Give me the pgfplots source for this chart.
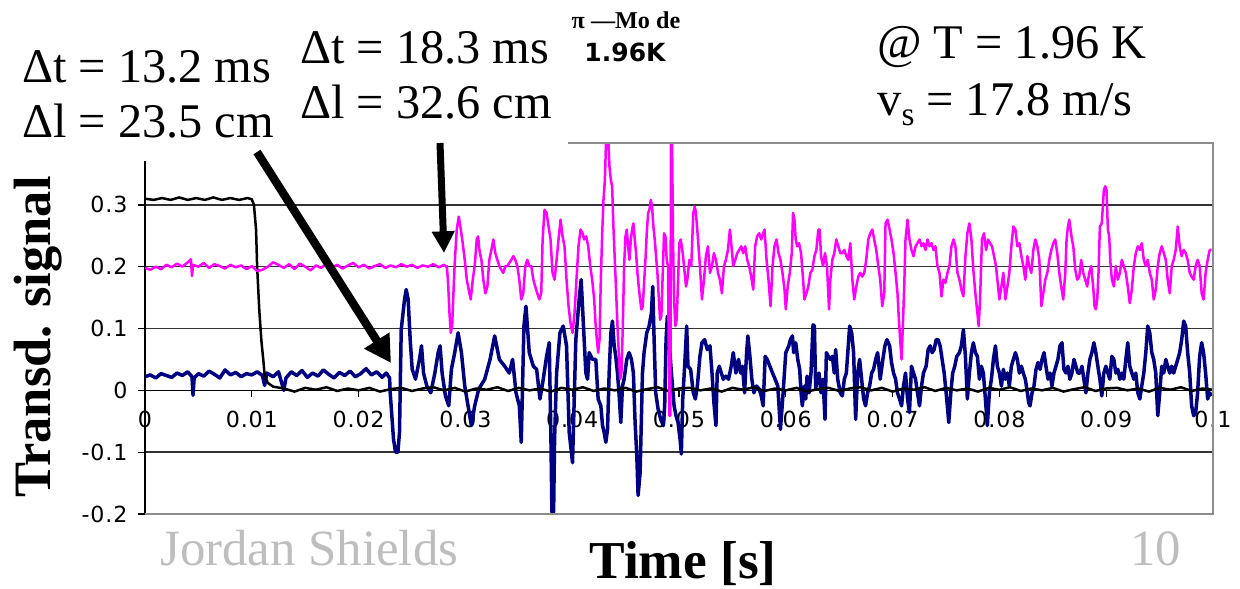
\documentclass[border=0pt]{standalone}
\usepackage{fontspec}
\setmainfont{Liberation Serif}
\newfontfamily\tickfont[LetterSpace=4]{DejaVu Sans}
\newfontfamily\labsans{DejaVu Sans}
\usepackage{pgfplots}
\pgfplotsset{compat=1.18}
\usetikzlibrary{arrows.meta}
\definecolor{sigmag}{RGB}{255,0,255}
\definecolor{signavy}{RGB}{0,0,128}
\definecolor{slidegray}{RGB}{190,190,190}
\definecolor{framegray}{RGB}{140,140,140}
\newcommand{\tickfs}{\tickfont\fontsize{13.3}{15}\selectfont}

\begin{document}
\begin{tikzpicture}[x=0.6pt,y=-0.6pt]
\path[use as bounding box] (0,0) rectangle (1240,588);
\begin{axis}[
 at={(87pt,-308.4pt)},anchor=south west,
 scale only axis,width=640.8pt,height=222.6pt,
 xmin=0,xmax=0.1,ymin=-0.2,ymax=0.4,
 axis x line=middle,axis y line=left,
 axis line style={-,black,line width=1pt},
 hide obscured x ticks=false,hide obscured y ticks=false,
 xtick={0,0.01,0.02,0.03,0.04,0.05,0.06,0.07,0.08,0.09,0.1},
 xticklabels={0,0.01,0.02,0.03,0.04,0.05,0.06,0.07,0.08,0.09,0.1},
 ytick={-0.2,-0.1,0,0.1,0.2,0.3},
 yticklabels={-0.2,-0.1,0,0.1,0.2,0.3},
 ymajorgrids,grid style={black!80,line width=0.9pt},
 tick align=outside,tick style={black,line width=0.8pt},major tick length=4pt,
 x tick label style={font=\tickfs,anchor=north,yshift=-5pt},
 y tick label style={font=\tickfs,anchor=east,xshift=-3pt},
 clip=true,
]
% navy transducer
\addplot[signavy,line width=2.1pt,line join=round] coordinates {
(0,0.022) (0.0005,0.025) (0.0010,0.020) (0.0015,0.027) (0.0020,0.024) (0.0025,0.021) (0.0030,0.028) (0.0035,0.024) (0.0040,0.030) (0.0044,0.022) (0.0045,-0.008) (0.0046,0.020) (0.0050,0.027) (0.0055,0.023) (0.0060,0.031) (0.0065,0.026) (0.0070,0.020) (0.0075,0.033) (0.0080,0.025) (0.0085,0.029) (0.0090,0.022) (0.0095,0.027) (0.0100,0.025) (0.0105,0.030) (0.0110,0.024) (0.0112,0.008) (0.0114,0.028) (0.0120,0.022) (0.0125,0.030) (0.0128,0.012) (0.0130,0.000) (0.0132,0.020) (0.0137,0.030) (0.0142,0.024) (0.0147,0.032) (0.0152,0.021) (0.0157,0.028) (0.0162,0.023) (0.0167,0.033) (0.0172,0.026) (0.0177,0.020) (0.0182,0.029) (0.0187,0.024) (0.0192,0.031) (0.0197,0.022) (0.0202,0.027) (0.0207,0.035) (0.0212,0.025) (0.0217,0.030) (0.0222,0.021) (0.0226,0.028) (0.0229,0.020)
(0.02296,-0.004) (0.02327,-0.079) (0.02346,-0.100) (0.02368,-0.100) (0.02383,-0.068) (0.02399,0.098) (0.02430,0.147) (0.02446,0.163) (0.02464,0.147) (0.02483,0.082) (0.02502,0.034) (0.02533,0.018) (0.02570,0.050) (0.02589,0.072) (0.02608,0.028) (0.02639,0.007) (0.02676,-0.004) (0.02714,0.028) (0.02745,0.061) (0.02763,0.072) (0.02782,0.028) (0.02813,-0.009) (0.02844,-0.025) (0.02869,0.034) (0.02900,0.061) (0.02932,0.093) (0.02963,0.061) (0.02994,0.007) (0.03025,-0.025) (0.03056,-0.057) (0.03087,-0.025) (0.03125,0.002) (0.03181,0.018) (0.03231,0.050) (0.03274,0.088) (0.03318,0.050) (0.03368,0.039) (0.03411,0.028) (0.03442,0.050) (0.03474,-0.004) (0.03505,-0.025) (0.03523,-0.084) (0.03548,0.104) (0.03567,0.136) (0.03598,0.061) (0.03636,0.039) (0.03667,0.034) (0.03698,-0.014) (0.03729,0.018) (0.03760,0.055) (0.03785,0.077) (0.03801,-0.079) (0.03810,-0.197) (0.03826,-0.197) (0.03835,-0.079) (0.03854,0.028) (0.03885,0.093) (0.03916,0.104) (0.03947,0.072) (0.03972,-0.068) (0.04003,-0.117) (0.04034,0.082) (0.04065,0.147) (0.04084,0.179)
(0.04112,0.082) (0.04128,0.028) (0.04144,0.018) (0.04159,0.061) (0.04190,0.050) (0.04221,0.050) (0.04243,-0.014) (0.04268,-0.025) (0.04284,-0.057) (0.04299,-0.068) (0.04315,-0.084) (0.04331,-0.063) (0.04346,0.028) (0.04362,0.093) (0.04377,0.112) (0.04393,0.072) (0.04408,0.055) (0.04424,0.028) (0.04440,-0.009) (0.04455,-0.052) (0.04471,0.007) (0.04486,0.018) (0.04511,0.050) (0.04533,0.061) (0.04555,0.050) (0.04573,0.028) (0.04589,-0.052) (0.04605,-0.106) (0.04617,-0.170) (0.04636,-0.133) (0.04658,0.028) (0.04673,0.061) (0.04698,0.093) (0.04720,0.104) (0.04742,0.125) (0.04754,0.168) (0.04767,0.082) (0.04782,-0.004) (0.04804,-0.030) (0.04829,-0.047) (0.04854,-0.057) (0.04866,-0.025) (0.04879,0.082) (0.04891,0.120) (0.04907,0.082) (0.04929,0.028) (0.04954,-0.025) (0.04972,-0.041) (0.04991,-0.052) (0.05010,-0.079) (0.05022,-0.103) (0.05035,-0.014) (0.05053,0.039) (0.05072,0.104) (0.05084,0.039) (0.05109,0.034) (0.05134,-0.004) (0.05153,-0.014) (0.05172,0.007) (0.05196,0.055) (0.05215,0.077) (0.05240,0.082) (0.05265,0.066) (0.05290,0.072) (0.05309,0.028) (0.05327,-0.020) (0.05346,-0.057) (0.05358,0.028) (0.05377,0.039) (0.05396,0.028) (0.05415,0.018) (0.05439,0.023) (0.05464,0.018) (0.05489,0.039) (0.05508,0.061) (0.05533,0.028) (0.05558,0.050) (0.05577,0.028) (0.05595,0.039) (0.05614,-0.004) (0.05633,0.061) (0.05645,0.088) (0.05664,0.055) (0.05682,0.018) (0.05701,-0.004) (0.05726,0.007) (0.05751,0.002) (0.05770,-0.009) (0.05788,-0.025) (0.05807,0.055) (0.05826,0.050) (0.05851,0.039) (0.05876,0.028) (0.05900,0.018) (0.05925,0.007) (0.05950,-0.063) (0.05975,-0.004) (0.06000,0.061) (0.06028,0.072)
(0.06043,0.082) (0.06062,0.088) (0.06074,0.061) (0.06093,0.077) (0.06112,0.050) (0.06130,0.034) (0.06143,-0.004) (0.06155,-0.025) (0.06174,0.007) (0.06187,-0.014) (0.06199,0.023) (0.06218,-0.004) (0.06236,0.028) (0.06255,0.106) (0.06268,0.104) (0.06280,0.002) (0.06292,0.018) (0.06311,0.028) (0.06330,-0.004) (0.06349,0.018) (0.06367,-0.047) (0.06380,0.061) (0.06398,0.055) (0.06417,0.050) (0.06436,0.055) (0.06454,0.028) (0.06467,0.066) (0.06486,0.018) (0.06510,-0.004) (0.06529,-0.009) (0.06548,0.018) (0.06567,0.028) (0.06585,0.072) (0.06598,0.104) (0.06617,0.093) (0.06635,0.061) (0.06654,-0.047) (0.06673,0.028) (0.06691,0.050) (0.06710,0.018) (0.06729,-0.014) (0.06747,-0.025) (0.06766,-0.004) (0.06785,0.007) (0.06804,0.028) (0.06822,0.034) (0.06841,0.050) (0.06860,0.061) (0.06884,0.018) (0.06909,0.050) (0.06928,0.072) (0.06947,0.082) (0.06972,0.072) (0.06990,0.045) (0.07009,0.028) (0.07028,0.018) (0.07046,-0.004) (0.07065,-0.014) (0.07084,-0.025) (0.07102,0.007) (0.07121,0.028) (0.07140,-0.014) (0.07158,-0.036) (0.07177,0.039) (0.07196,0.028) (0.07215,0.018) (0.07233,-0.004) (0.07252,-0.025) (0.07271,0.007) (0.07289,0.028) (0.07314,0.039) (0.07333,0.066) (0.07352,0.072) (0.07370,0.061) (0.07389,0.066) (0.07408,0.082) (0.07426,0.082) (0.07445,0.072) (0.07464,0.050) (0.07483,0.028) (0.07507,-0.014) (0.07526,-0.052) (0.07545,-0.004) (0.07563,0.028) (0.07582,0.039) (0.07601,0.055) (0.07626,0.061) (0.07644,0.072) (0.07663,0.098) (0.07682,0.055) (0.07700,-0.014) (0.07719,0.028) (0.07738,0.061) (0.07756,0.077) (0.07775,0.061) (0.07794,0.055) (0.07813,0.018) (0.07831,0.039) (0.07850,0.028) (0.07869,-0.014) (0.07887,-0.057) (0.07906,-0.004) (0.07925,0.018) (0.07944,0.050)
(0.07963,0.072) (0.07981,0.039) (0.08000,0.028) (0.08019,0.007) (0.08037,0.034) (0.08056,0.018) (0.08075,0.028) (0.08093,0.007) (0.08112,0.039) (0.08131,0.050) (0.08150,0.061) (0.08168,0.050) (0.08187,0.028) (0.08206,0.039) (0.08224,0.028) (0.08243,0.018) (0.08262,-0.004) (0.08274,-0.020) (0.08287,-0.025) (0.08306,-0.004) (0.08324,0.007) (0.08343,0.034) (0.08362,0.045) (0.08381,0.034) (0.08399,0.050) (0.08418,0.061) (0.08436,0.039) (0.08455,0.018) (0.08474,0.028) (0.08492,0.007) (0.08511,0.028) (0.08530,0.039) (0.08548,0.050) (0.08567,0.072) (0.08586,0.077) (0.08604,0.034) (0.08623,0.028) (0.08642,0.039) (0.08660,0.018) (0.08679,0.028) (0.08698,0.050) (0.08716,0.039) (0.08735,0.028) (0.08754,0.028) (0.08773,0.039) (0.08791,0.018) (0.08810,-0.004) (0.08829,0.028) (0.08847,0.050) (0.08866,0.061) (0.08885,0.077) (0.08903,0.061) (0.08922,0.039) (0.08941,0.018) (0.08959,-0.009) (0.08978,0.028) (0.08997,0.039) (0.09016,0.028) (0.09034,0.018) (0.09053,0.055) (0.09072,0.050) (0.09090,0.028) (0.09109,0.034) (0.09128,0.018) (0.09146,0.028) (0.09165,0.018) (0.09184,0.050) (0.09202,0.077) (0.09221,0.039) (0.09240,0.028) (0.09259,0.018) (0.09277,0.028) (0.09296,-0.004) (0.09315,-0.014) (0.09333,0.007) (0.09352,0.028) (0.09371,0.061) (0.09389,0.104) (0.09408,0.093) (0.09427,0.061) (0.09445,0.050) (0.09464,0.028) (0.09483,-0.041) (0.09501,-0.004) (0.09520,0.039) (0.09539,0.028) (0.09558,0.050) (0.09576,0.039) (0.09595,0.028) (0.09614,0.039) (0.09632,0.028) (0.09651,0.039) (0.09670,0.050) (0.09688,0.061) (0.09707,0.082) (0.09726,0.112) (0.09744,0.104) (0.09763,0.061) (0.09782,0.028) (0.09800,-0.025) (0.09819,-0.041) (0.09838,-0.036) (0.09856,-0.004) (0.09875,0.055) (0.09894,0.077) (0.09912,0.061) (0.09931,0.028) (0.09950,-0.014) (0.09969,-0.004) (0.09987,-0.009)
};
% black transducer
\addplot[black,line width=1.5pt,line join=round] coordinates {
(0,0.310) (0.0008,0.308) (0.0016,0.311) (0.0024,0.308) (0.0032,0.312) (0.0040,0.308) (0.0048,0.311) (0.0056,0.308) (0.0064,0.312) (0.0072,0.308) (0.0080,0.311) (0.0088,0.308) (0.0096,0.311) (0.0100,0.309) (0.0102,0.300) (0.0104,0.260) (0.0105,0.200) (0.0107,0.130) (0.0109,0.080) (0.0111,0.045) (0.0112,0.025) (0.0115,0.012) (0.0120,0.006) (0.0130,0.003)
(0.014,-0.002) (0.015,0.004) (0.016,0.001) (0.017,0.005) (0.018,-0.001) (0.019,0.003) (0.020,0.000) (0.021,0.004) (0.022,-0.002) (0.023,0.002) (0.024,0.004) (0.025,-0.001) (0.026,0.003) (0.027,0.005) (0.028,0.000) (0.029,0.004) (0.030,-0.002) (0.031,0.003) (0.032,0.001) (0.033,0.005) (0.034,-0.001) (0.035,0.004) (0.036,0.000) (0.037,0.003) (0.038,-0.002) (0.039,0.004) (0.040,0.001) (0.041,0.005) (0.042,-0.001) (0.043,0.003) (0.044,0.000) (0.045,0.004) (0.046,-0.002) (0.047,0.002) (0.048,0.005) (0.049,-0.001) (0.050,0.003) (0.051,0.004) (0.052,0.000) (0.053,0.003) (0.054,-0.002) (0.055,0.004) (0.056,0.001) (0.057,0.005) (0.058,-0.001) (0.059,0.003) (0.060,0.000) (0.061,0.004) (0.062,-0.002) (0.063,0.002) (0.064,0.004) (0.065,-0.001) (0.066,0.003) (0.067,0.005) (0.068,0.000) (0.069,0.004) (0.070,-0.002) (0.071,0.003) (0.072,0.001) (0.073,0.005) (0.074,-0.001) (0.075,0.004) (0.076,0.000) (0.077,0.003) (0.078,-0.002) (0.079,0.004) (0.080,0.001) (0.081,0.005) (0.082,-0.001) (0.083,0.003) (0.084,0.000) (0.085,0.004) (0.086,-0.002) (0.087,0.002) (0.088,0.005) (0.089,-0.001) (0.090,0.003) (0.091,0.004) (0.092,0.000) (0.093,0.003) (0.094,-0.002) (0.095,0.004) (0.096,0.001) (0.097,0.005) (0.098,-0.001) (0.099,0.003) (0.100,0.001)
};
% magenta transducer
\addplot[sigmag,line width=1.5pt,line join=round] coordinates {
(0,0.198) (0.0005,0.195) (0.0010,0.200) (0.0015,0.196) (0.0020,0.203) (0.0025,0.199) (0.0030,0.205) (0.0035,0.200) (0.0040,0.207) (0.0043,0.212) (0.0044,0.185) (0.0045,0.203) (0.0050,0.200) (0.0055,0.206) (0.0060,0.198) (0.0065,0.204) (0.0070,0.201) (0.0075,0.197) (0.0080,0.203) (0.0085,0.199) (0.0090,0.202) (0.0095,0.196) (0.0100,0.201) (0.0105,0.193) (0.0110,0.195) (0.0115,0.200) (0.0120,0.207) (0.0125,0.203) (0.0130,0.198) (0.0135,0.204) (0.0140,0.196) (0.0145,0.205) (0.0150,0.200) (0.0155,0.194) (0.0160,0.202) (0.0165,0.198) (0.0170,0.205) (0.0175,0.199) (0.0180,0.203) (0.0185,0.197) (0.0190,0.202) (0.0195,0.206) (0.0200,0.199) (0.0205,0.203) (0.0210,0.197) (0.0215,0.201) (0.0220,0.204) (0.0225,0.198) (0.0230,0.202) (0.0235,0.199) (0.0240,0.204) (0.0245,0.200) (0.0250,0.203) (0.0255,0.198) (0.0260,0.202) (0.0265,0.200) (0.0270,0.204) (0.0275,0.199) (0.0280,0.203) (0.0282,0.200)
(0.02826,0.201) (0.02838,0.174) (0.02851,0.125) (0.02863,0.093) (0.02876,0.104) (0.02888,0.157) (0.02900,0.206) (0.02919,0.260) (0.02938,0.281) (0.02957,0.260) (0.02975,0.238) (0.02994,0.211) (0.03013,0.179) (0.03031,0.163) (0.03050,0.147) (0.03069,0.179) (0.03087,0.201) (0.03106,0.244) (0.03119,0.249) (0.03131,0.227) (0.03150,0.211) (0.03168,0.179) (0.03187,0.157) (0.03206,0.168) (0.03224,0.211) (0.03243,0.227) (0.03262,0.244) (0.03280,0.222) (0.03299,0.211) (0.03318,0.201) (0.03336,0.195) (0.03355,0.190) (0.03374,0.201) (0.03393,0.201) (0.03411,0.206) (0.03430,0.211) (0.03449,0.217) (0.03467,0.211) (0.03486,0.201) (0.03505,0.179) (0.03523,0.147) (0.03542,0.157) (0.03561,0.201) (0.03580,0.211) (0.03598,0.201) (0.03617,0.201) (0.03636,0.179) (0.03654,0.168) (0.03673,0.157) (0.03692,0.147) (0.03710,0.157) (0.03723,0.244) (0.03741,0.292) (0.03760,0.287) (0.03779,0.265) (0.03797,0.244) (0.03816,0.190) (0.03835,0.179) (0.03854,0.211) (0.03872,0.244) (0.03891,0.276) (0.03910,0.249) (0.03928,0.233) (0.03947,0.179) (0.03966,0.136) (0.03984,0.109) (0.04003,0.093) (0.04022,0.125) (0.04040,0.179) (0.04059,0.233) (0.04078,0.260) (0.04097,0.254)
(0.04112,0.244) (0.04131,0.249) (0.04150,0.233) (0.04169,0.201) (0.04187,0.179) (0.04206,0.147) (0.04218,0.109) (0.04231,0.082) (0.04243,0.061) (0.04256,0.082) (0.04268,0.179) (0.04281,0.254) (0.04293,0.308) (0.04306,0.340) (0.04318,0.410) (0.04337,0.410) (0.04349,0.362) (0.04362,0.340) (0.04374,0.330) (0.04387,0.260) (0.04399,0.211) (0.04412,0.157) (0.04424,0.104) (0.04436,0.061) (0.04449,0.018) (0.04461,0.028) (0.04474,0.104) (0.04486,0.201) (0.04499,0.249) (0.04511,0.260) (0.04524,0.233) (0.04536,0.211) (0.04549,0.244) (0.04561,0.260) (0.04573,0.270) (0.04586,0.244) (0.04598,0.222) (0.04611,0.190) (0.04623,0.168) (0.04636,0.147) (0.04648,0.131) (0.04661,0.136) (0.04673,0.174) (0.04686,0.211) (0.04698,0.254) (0.04711,0.287) (0.04723,0.292) (0.04736,0.308) (0.04748,0.297) (0.04760,0.265) (0.04773,0.244) (0.04785,0.217) (0.04798,0.190) (0.04810,0.152) (0.04823,0.114) (0.04835,0.120) (0.04848,0.190) (0.04860,0.254) (0.04873,0.249) (0.04885,0.211) (0.04897,0.201) (0.04910,-0.041) (0.04919,-0.041) (0.04925,0.410) (0.04935,0.410) (0.04944,0.244) (0.04954,0.147) (0.04966,0.104) (0.04978,0.114) (0.04991,0.174) (0.05003,0.238) (0.05016,0.244) (0.05035,0.222) (0.05053,0.190) (0.05066,0.168) (0.05078,0.179) (0.05097,0.211) (0.05115,0.201) (0.05134,0.287) (0.05147,0.297) (0.05159,0.287) (0.05178,0.244) (0.05196,0.201) (0.05215,0.147) (0.05234,0.179) (0.05252,0.217) (0.05271,0.233) (0.05290,0.190) (0.05309,0.201) (0.05327,0.222) (0.05346,0.211) (0.05365,0.190) (0.05383,0.179) (0.05402,0.157) (0.05421,0.201) (0.05439,0.211) (0.05458,0.227) (0.05477,0.260) (0.05489,0.238) (0.05508,0.201) (0.05527,0.211) (0.05545,0.222) (0.05564,0.227) (0.05583,0.233) (0.05601,0.222) (0.05620,0.233) (0.05639,0.211) (0.05657,0.201) (0.05676,0.184) (0.05695,0.163) (0.05713,0.233) (0.05732,0.249) (0.05751,0.254) (0.05770,0.244) (0.05788,0.254) (0.05801,0.260) (0.05820,0.211) (0.05838,0.179) (0.05857,0.136) (0.05876,0.201) (0.05894,0.233) (0.05913,0.244) (0.05932,0.222) (0.05950,0.211) (0.05969,0.190) (0.05988,0.163)
(0.06000,0.131) (0.06018,0.168) (0.06037,0.190) (0.06056,0.222) (0.06068,0.287) (0.06081,0.276) (0.06093,0.244) (0.06106,0.233) (0.06124,0.238) (0.06143,0.222) (0.06162,0.179) (0.06174,0.147) (0.06193,0.157) (0.06211,0.168) (0.06230,0.190) (0.06249,0.195) (0.06268,0.217) (0.06286,0.227) (0.06305,0.260) (0.06317,0.260) (0.06330,0.217) (0.06349,0.201) (0.06367,0.222) (0.06386,0.201) (0.06405,0.131) (0.06417,0.179) (0.06436,0.211) (0.06454,0.222) (0.06473,0.244) (0.06492,0.233) (0.06510,0.222) (0.06529,0.222) (0.06548,0.227) (0.06567,0.217) (0.06585,0.211) (0.06604,0.238) (0.06623,0.179) (0.06641,0.147) (0.06660,0.168) (0.06679,0.184) (0.06697,0.190) (0.06716,0.184) (0.06735,0.190) (0.06753,0.211) (0.06772,0.244) (0.06791,0.254) (0.06810,0.260) (0.06828,0.244) (0.06847,0.227) (0.06866,0.201) (0.06884,0.179) (0.06903,0.136) (0.06922,0.157) (0.06934,0.270) (0.06953,0.276) (0.06972,0.260) (0.06990,0.244) (0.07009,0.222) (0.07028,0.190) (0.07046,0.157) (0.07059,0.114) (0.07071,0.082) (0.07084,0.050) (0.07096,0.104) (0.07109,0.168) (0.07121,0.244) (0.07140,0.276) (0.07158,0.244) (0.07177,0.227) (0.07196,0.217) (0.07215,0.233) (0.07233,0.238) (0.07252,0.244) (0.07271,0.233) (0.07289,0.238) (0.07308,0.227) (0.07327,0.244) (0.07345,0.233) (0.07364,0.238) (0.07383,0.227) (0.07401,0.233) (0.07420,0.201) (0.07439,0.190) (0.07458,0.152) (0.07476,0.179) (0.07495,0.174) (0.07514,0.190) (0.07532,0.201) (0.07551,0.233) (0.07570,0.244) (0.07588,0.233) (0.07607,0.190) (0.07626,0.179) (0.07644,0.163) (0.07663,0.152) (0.07682,0.217) (0.07700,0.254) (0.07719,0.270) (0.07738,0.244) (0.07756,0.195) (0.07775,0.157) (0.07794,0.125) (0.07806,0.104) (0.07819,0.147) (0.07837,0.244) (0.07856,0.254) (0.07875,0.227) (0.07894,0.244) (0.07912,0.238) (0.07931,0.233) (0.07950,0.217) (0.07968,0.201)
(0.08000,0.147) (0.08019,0.168) (0.08037,0.190) (0.08056,0.147) (0.08075,0.168) (0.08093,0.190) (0.08112,0.233) (0.08131,0.265) (0.08150,0.260) (0.08168,0.233) (0.08187,0.238) (0.08206,0.217) (0.08224,0.201) (0.08243,0.179) (0.08262,0.217) (0.08280,0.201) (0.08299,0.190) (0.08318,0.227) (0.08336,0.244) (0.08355,0.233) (0.08374,0.211) (0.08393,0.136) (0.08411,0.157) (0.08430,0.179) (0.08449,0.190) (0.08467,0.211) (0.08486,0.227) (0.08505,0.238) (0.08523,0.244) (0.08542,0.222) (0.08561,0.190) (0.08579,0.168) (0.08598,0.147) (0.08617,0.190) (0.08629,0.244) (0.08642,0.265) (0.08654,0.276) (0.08667,0.260) (0.08679,0.244) (0.08692,0.233) (0.08710,0.195) (0.08729,0.179) (0.08748,0.184) (0.08766,0.211) (0.08785,0.190) (0.08804,0.179) (0.08822,0.168) (0.08841,0.190) (0.08860,0.201) (0.08878,0.168) (0.08891,0.136) (0.08903,0.131) (0.08916,0.147) (0.08928,0.190) (0.08941,0.265) (0.08959,0.270) (0.08978,0.324) (0.08991,0.330) (0.09003,0.324) (0.09016,0.260) (0.09028,0.249) (0.09040,0.206) (0.09053,0.179) (0.09072,0.168) (0.09090,0.201) (0.09109,0.179) (0.09128,0.190) (0.09146,0.211) (0.09165,0.201) (0.09184,0.190) (0.09202,0.168) (0.09221,0.141) (0.09240,0.163) (0.09259,0.201) (0.09277,0.222) (0.09296,0.233) (0.09315,0.227) (0.09333,0.238) (0.09352,0.211) (0.09371,0.201) (0.09389,0.211) (0.09408,0.190) (0.09427,0.179) (0.09445,0.147) (0.09464,0.163) (0.09483,0.201) (0.09501,0.222) (0.09520,0.233) (0.09539,0.222) (0.09558,0.211) (0.09576,0.179) (0.09595,0.157) (0.09614,0.201) (0.09632,0.211) (0.09651,0.227) (0.09670,0.265) (0.09688,0.233) (0.09707,0.217) (0.09726,0.227) (0.09744,0.222) (0.09763,0.211) (0.09782,0.190) (0.09800,0.184) (0.09819,0.179) (0.09838,0.201) (0.09856,0.211) (0.09875,0.201) (0.09894,0.157) (0.09912,0.147) (0.09931,0.190) (0.09950,0.211) (0.09969,0.227) (0.09987,0.227)
};
\end{axis}
% white boxes behind the slide text
\fill[white] (0,0) rectangle (290,161);
\fill[white] (290,0) rectangle (567,141);
\draw[framegray,line width=1.2pt] (145,514) -- (1213,514) -- (1213,143) -- (568,143);
% arrows
\draw[line width=5pt,-{Triangle[width=17pt,length=16pt]}] (257,152) -- (391,363);
\draw[line width=4.2pt,-{Triangle[width=13pt,length=13pt]}] (440,143) -- (444,253);
% slide text
\node[anchor=base west,inner sep=0,font=\fontsize{29}{34}\selectfont] at (22,82) {Δt = 13.2 ms};
\node[anchor=base west,inner sep=0,font=\fontsize{29}{34}\selectfont] at (22,137) {Δl = 23.5 cm};
\node[anchor=base west,inner sep=0,font=\fontsize{29}{34}\selectfont] at (300,63) {Δt = 18.3 ms};
\node[anchor=base west,inner sep=0,font=\fontsize{29}{34}\selectfont] at (300,118) {Δl = 32.6 cm};
\node[anchor=base west,inner sep=0,font=\fontsize{29}{34}\selectfont] at (877,58) {@ T = 1.96 K};
\node[anchor=base west,inner sep=0,font=\fontsize{29}{34}\selectfont] at (877,115) {v\raisebox{-6pt}{\fontsize{20}{20}\selectfont s} = 17.8 m/s};
\node[anchor=base,inner sep=0,font=\bfseries\fontsize{14.5}{16}\selectfont] at (626,28) {π —Mo de};
\node[anchor=base,inner sep=0,font=\labsans\bfseries\fontsize{15}{17}\selectfont] at (625,61) {1.96K};
\node[anchor=base west,inner sep=0,text=slidegray,font=\fontsize{30.5}{34}\selectfont] at (160,565) {Jordan Shields};
\node[anchor=base west,inner sep=0,text=slidegray,font=\fontsize{30.5}{34}\selectfont] at (1130,565) {10};
\node[anchor=base,inner sep=0,font=\bfseries\fontsize{32}{36}\selectfont] at (683,578) {Time [s]};
\node[anchor=base,inner sep=0,rotate=90,font=\bfseries\fontsize{31.5}{36}\selectfont] at (50,337) {Transd. signal};
\end{tikzpicture}
\end{document}
